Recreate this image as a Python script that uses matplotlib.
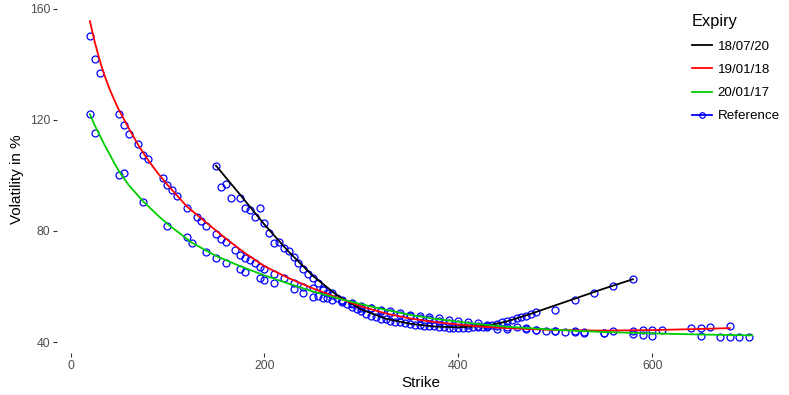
import matplotlib.pyplot as plt
from matplotlib.lines import Line2D

plt.rcParams['font.family'] = ['Liberation Sans', 'DejaVu Sans']

# fitted smiles per expiry
fit_1807_k = [150, 160, 175, 200, 225, 250, 275, 300, 325, 350, 375, 400, 425, 440, 450, 475, 500, 525, 550, 580]
fit_1807_v = [103.5, 99.3, 93.0, 82.3, 72.5, 63.8, 56.8, 51.7, 48.4, 46.6, 45.6, 45.3, 45.8, 46.6, 47.4, 50.2, 53.2, 56.2, 59.2, 62.6]

fit_1901_k = [20, 25, 30, 35, 40, 45, 50, 60, 70, 80, 90, 100, 120, 140, 160, 180, 200, 225, 250, 275,
              300, 325, 350, 375, 400, 425, 450, 500, 550, 600, 650, 680]
fit_1901_v = [155.5, 148.0, 141.5, 136.0, 131.3, 127.2, 123.5, 117.0, 110.8, 105.5, 100.8, 96.6, 88.8, 83.0, 77.3, 72.0,
              67.3, 63.0, 59.3, 56.0, 52.8, 50.3, 48.5, 47.2, 46.3, 45.5, 45.0, 44.3, 44.1, 44.3, 44.7, 45.0]

fit_2001_k = [20, 25, 30, 35, 40, 45, 50, 60, 75, 90, 100, 125, 150, 175, 200, 225, 250, 275, 300, 325,
              350, 375, 400, 425, 450, 500, 550, 600, 650, 703]
fit_2001_v = [122.0, 118.0, 114.5, 111.0, 107.8, 104.5, 101.5, 96.5, 90.6, 85.6, 82.5, 75.8, 71.0, 67.3, 64.0, 61.0,
              58.2, 55.8, 53.6, 51.6, 49.8, 48.4, 47.3, 46.3, 45.5, 44.4, 43.6, 43.1, 42.7, 42.4]

# reference (market) vols per expiry
ref_1807_k = [150, 155, 160, 165, 175, 180, 185, 190, 195, 200, 205, 210, 215, 220, 225, 230, 235, 240, 245, 250,
              255, 260, 265, 270, 275, 280, 285, 290, 295, 300, 305, 310, 315, 320, 325, 330, 335, 340, 345, 350,
              355, 360, 365, 370, 375, 380, 385, 390, 395, 400, 405, 410, 415, 420, 425, 430, 435, 440, 445, 450,
              455, 460, 465, 470, 475, 480, 500, 520, 540, 560, 580]
ref_1807_v = [103.4, 95.9, 96.9, 92.0, 92.0, 88.3, 87.6, 85.0, 88.3, 83.0, 79.3, 75.7, 76.0, 73.9, 72.8, 70.6, 68.5,
              66.3, 64.5, 63.0, 61.3, 59.1, 57.7, 56.9, 55.8, 54.6, 53.6, 52.6, 51.8, 51.2, 50.2, 49.4, 48.9, 48.4,
              48.2, 47.6, 47.3, 47.1, 46.8, 46.5, 46.2, 46.1, 45.9, 45.7, 45.6, 45.4, 45.3, 45.2, 45.1, 45.0, 45.1,
              45.2, 45.3, 45.4, 45.5, 45.8, 46.0, 46.5, 47.1, 47.6, 47.9, 48.5, 49.1, 49.5, 50.1, 50.7, 51.5, 55.1,
              57.8, 60.0, 62.6]

ref_1901_k = [20, 25, 30, 50, 55, 60, 70, 75, 80, 95, 100, 105, 110, 120, 130, 135, 140, 150, 155, 160, 170, 175,
              180, 185, 190, 195, 200, 210, 220, 230, 240, 250, 260, 270, 280, 290, 300, 310, 320, 330, 340, 350,
              360, 370, 380, 390, 400, 410, 420, 430, 440, 450, 460, 470, 480, 490, 500, 510, 520, 530, 550, 560,
              580, 590, 600, 610, 640, 650, 660, 680]
ref_1901_v = [150.0, 142.0, 137.0, 122.0, 118.0, 115.0, 111.4, 107.4, 106.0, 99.0, 96.6, 94.8, 92.6, 88.3, 85.0,
              83.6, 81.8, 78.9, 77.1, 76.0, 73.2, 71.4, 70.3, 69.5, 68.5, 67.0, 66.3, 64.5, 63.0, 61.3, 59.8, 59.5,
              58.7, 57.7, 55.2, 54.0, 53.0, 52.2, 51.0, 50.4, 49.8, 49.3, 48.7, 48.2, 47.5, 47.0, 46.5, 46.0, 45.8,
              45.4, 44.7, 44.6, 45.5, 45.0, 44.2, 44.1, 44.1, 43.7, 44.1, 43.7, 43.4, 43.8, 44.1, 44.2, 44.4, 44.4,
              44.9, 45.2, 45.5, 45.8]

ref_2001_k = [20, 25, 50, 55, 75, 100, 120, 125, 140, 150, 160, 175, 180, 195, 200, 210, 230, 240, 250, 255, 260,
              265, 270, 280, 290, 300, 310, 320, 330, 340, 350, 360, 370, 380, 390, 400, 410, 420, 430, 440, 450,
              470, 480, 500, 520, 530, 550, 580, 590, 600, 650, 670, 680, 690, 700]
ref_2001_v = [122.0, 115.3, 100.2, 100.9, 90.5, 81.8, 77.8, 75.7, 72.4, 70.3, 68.5, 66.3, 65.2, 63.0, 62.3, 61.3,
              59.2, 57.7, 56.2, 56.4, 55.9, 56.0, 55.3, 54.5, 53.8, 52.3, 52.4, 51.5, 51.0, 50.4, 49.9, 49.5, 49.1,
              48.6, 48.1, 47.6, 47.2, 46.7, 46.3, 45.9, 45.4, 44.8, 44.5, 44.0, 43.6, 43.3, 43.2, 42.8, 42.6, 42.3,
              42.2, 41.9, 41.9, 41.9, 41.7]

fig = plt.figure(figsize=(7.89, 3.95), dpi=100)
ax = fig.add_axes([0.0722, 0.106, 0.9228, 0.879])

ref_style = dict(linestyle='none', marker='o', markersize=5, markerfacecolor='none',
                 markeredgecolor='#0000FF', markeredgewidth=0.9)
ax.plot(ref_1807_k, ref_1807_v, **ref_style)
ax.plot(ref_1901_k, ref_1901_v, **ref_style)
ax.plot(ref_2001_k, ref_2001_v, **ref_style)

ax.plot(fit_1807_k, fit_1807_v, color='black', lw=1.3)
ax.plot(fit_1901_k, fit_1901_v, color='#FF0000', lw=1.3)
ax.plot(fit_2001_k, fit_2001_v, color='#00CD00', lw=1.3)

ax.set_xlim(-14, 737)
ax.set_ylim(36, 161)
ax.set_xticks([0, 200, 400, 600])
ax.set_yticks([40, 80, 120, 160])
for s in ax.spines.values():
    s.set_visible(False)
ax.tick_params(length=3, width=0.8, color='#333333', labelcolor='#4D4D4D', labelsize=8.8, pad=2)
ax.set_xlabel('Strike', fontsize=11, labelpad=3)
ax.set_ylabel('Volatility in %', fontsize=11, labelpad=4)

handles = [Line2D([], [], color='black', lw=1.3),
           Line2D([], [], color='#FF0000', lw=1.3),
           Line2D([], [], color='#00CD00', lw=1.3),
           Line2D([], [], color='#0000FF', lw=1.3, marker='o', markersize=4,
                  markerfacecolor='none', markeredgewidth=0.9)]
leg = ax.legend(handles, ['18/07/20', '19/01/18', '20/01/17', 'Reference'], title='Expiry',
                loc='upper left', bbox_to_anchor=(0.870, 0.977), bbox_transform=fig.transFigure,
                frameon=False, fontsize=9.6, title_fontsize=11.8, handlelength=1.5,
                handletextpad=0.45, labelspacing=0.82, alignment='left', borderaxespad=0)

fig.savefig('out.png', dpi=100)
